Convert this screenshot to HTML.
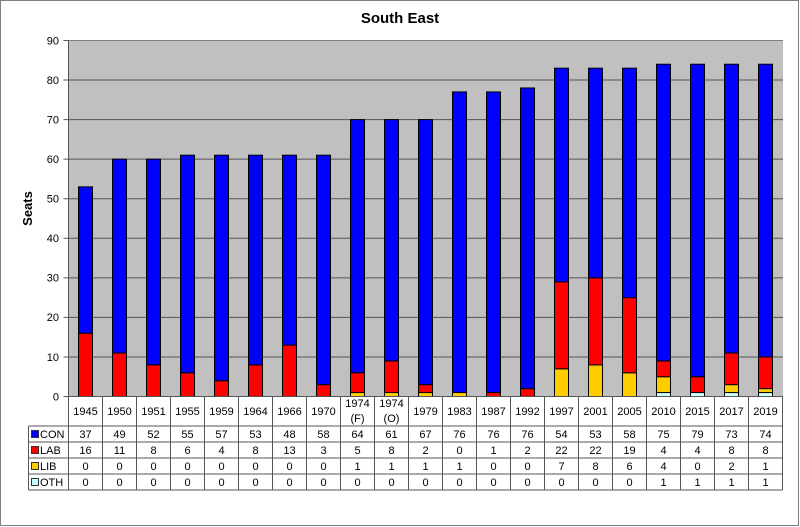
<!DOCTYPE html>
<html><head><meta charset="utf-8"><style>
html,body{margin:0;padding:0;background:#fff;}
svg{display:block;font-family:"Liberation Sans",Arial,sans-serif;}
</style></head><body>
<svg width="800" height="527" viewBox="0 0 800 527" xmlns="http://www.w3.org/2000/svg">
<rect x="0.5" y="0.5" width="798" height="525" fill="#fff" stroke="#808080" stroke-width="1"/>
<text x="400" y="23" text-anchor="middle" font-size="15" font-weight="bold" fill="#000">South East</text>
<text transform="translate(32,208.5) rotate(-90)" text-anchor="middle" font-size="13" font-weight="bold" fill="#000">Seats</text>
<!-- plot area -->
<rect x="68.5" y="40.5" width="714.5" height="356" fill="#c0c0c0"/>
<g stroke="#555" stroke-width="1">
<line x1="63.5" y1="40.5" x2="783" y2="40.5" stroke="#808080"/>
<line x1="63.5" y1="80.06" x2="783" y2="80.06"/>
<line x1="63.5" y1="119.61" x2="783" y2="119.61"/>
<line x1="63.5" y1="159.17" x2="783" y2="159.17"/>
<line x1="63.5" y1="198.72" x2="783" y2="198.72"/>
<line x1="63.5" y1="238.28" x2="783" y2="238.28"/>
<line x1="63.5" y1="277.83" x2="783" y2="277.83"/>
<line x1="63.5" y1="317.39" x2="783" y2="317.39"/>
<line x1="63.5" y1="356.94" x2="783" y2="356.94"/>
<line x1="63.5" y1="396.5" x2="783" y2="396.5"/>
</g>
<line x1="68.5" y1="40.5" x2="68.5" y2="396.5" stroke="#555"/>
<line x1="63.5" y1="40.5" x2="68.5" y2="40.5" stroke="#555"/>
<g font-size="11" text-anchor="end" fill="#000">
<text x="59" y="44.5">90</text>
<text x="59" y="84">80</text>
<text x="59" y="123.5">70</text>
<text x="59" y="163">60</text>
<text x="59" y="202.5">50</text>
<text x="59" y="242">40</text>
<text x="59" y="281.5">30</text>
<text x="59" y="321">20</text>
<text x="59" y="361">10</text>
<text x="59" y="400.5">0</text>
</g>
<!-- bars -->
<g stroke="#000" stroke-width="1">
<rect x="78.5" y="333.21" width="14" height="63.29" fill="#ff0000"/>
<rect x="78.5" y="186.85" width="14" height="146.36" fill="#0000ff"/>
<rect x="112.5" y="352.99" width="14" height="43.51" fill="#ff0000"/>
<rect x="112.5" y="159.17" width="14" height="193.82" fill="#0000ff"/>
<rect x="146.5" y="364.86" width="14" height="31.64" fill="#ff0000"/>
<rect x="146.5" y="159.17" width="14" height="205.69" fill="#0000ff"/>
<rect x="180.5" y="372.77" width="14" height="23.73" fill="#ff0000"/>
<rect x="180.5" y="155.21" width="14" height="217.56" fill="#0000ff"/>
<rect x="214.5" y="380.68" width="14" height="15.82" fill="#ff0000"/>
<rect x="214.5" y="155.21" width="14" height="225.47" fill="#0000ff"/>
<rect x="248.5" y="364.86" width="14" height="31.64" fill="#ff0000"/>
<rect x="248.5" y="155.21" width="14" height="209.65" fill="#0000ff"/>
<rect x="282.5" y="345.08" width="14" height="51.42" fill="#ff0000"/>
<rect x="282.5" y="155.21" width="14" height="189.87" fill="#0000ff"/>
<rect x="316.5" y="384.63" width="14" height="11.87" fill="#ff0000"/>
<rect x="316.5" y="155.21" width="14" height="229.42" fill="#0000ff"/>
<rect x="350.5" y="392.54" width="14" height="3.96" fill="#ffcc00"/>
<rect x="350.5" y="372.77" width="14" height="19.77" fill="#ff0000"/>
<rect x="350.5" y="119.61" width="14" height="253.16" fill="#0000ff"/>
<rect x="384.5" y="392.54" width="14" height="3.96" fill="#ffcc00"/>
<rect x="384.5" y="360.90" width="14" height="31.64" fill="#ff0000"/>
<rect x="384.5" y="119.61" width="14" height="241.29" fill="#0000ff"/>
<rect x="418.5" y="392.54" width="14" height="3.96" fill="#ffcc00"/>
<rect x="418.5" y="384.63" width="14" height="7.91" fill="#ff0000"/>
<rect x="418.5" y="119.61" width="14" height="265.02" fill="#0000ff"/>
<rect x="452.5" y="392.54" width="14" height="3.96" fill="#ffcc00"/>
<rect x="452.5" y="91.92" width="14" height="300.62" fill="#0000ff"/>
<rect x="486.5" y="392.54" width="14" height="3.96" fill="#ff0000"/>
<rect x="486.5" y="91.92" width="14" height="300.62" fill="#0000ff"/>
<rect x="520.5" y="388.59" width="14" height="7.91" fill="#ff0000"/>
<rect x="520.5" y="87.97" width="14" height="300.62" fill="#0000ff"/>
<rect x="554.5" y="368.81" width="14" height="27.69" fill="#ffcc00"/>
<rect x="554.5" y="281.79" width="14" height="87.02" fill="#ff0000"/>
<rect x="554.5" y="68.19" width="14" height="213.6" fill="#0000ff"/>
<rect x="588.5" y="364.86" width="14" height="31.64" fill="#ffcc00"/>
<rect x="588.5" y="277.83" width="14" height="87.03" fill="#ff0000"/>
<rect x="588.5" y="68.19" width="14" height="209.64" fill="#0000ff"/>
<rect x="622.5" y="372.77" width="14" height="23.73" fill="#ffcc00"/>
<rect x="622.5" y="297.61" width="14" height="75.16" fill="#ff0000"/>
<rect x="622.5" y="68.19" width="14" height="229.42" fill="#0000ff"/>
<rect x="656.5" y="392.54" width="14" height="3.96" fill="#ccffff"/>
<rect x="656.5" y="376.72" width="14" height="15.82" fill="#ffcc00"/>
<rect x="656.5" y="360.90" width="14" height="15.82" fill="#ff0000"/>
<rect x="656.5" y="64.23" width="14" height="296.67" fill="#0000ff"/>
<rect x="690.5" y="392.54" width="14" height="3.96" fill="#ccffff"/>
<rect x="690.5" y="376.72" width="14" height="15.82" fill="#ff0000"/>
<rect x="690.5" y="64.23" width="14" height="312.49" fill="#0000ff"/>
<rect x="724.5" y="392.54" width="14" height="3.96" fill="#ccffff"/>
<rect x="724.5" y="384.63" width="14" height="7.91" fill="#ffcc00"/>
<rect x="724.5" y="352.99" width="14" height="31.64" fill="#ff0000"/>
<rect x="724.5" y="64.23" width="14" height="288.76" fill="#0000ff"/>
<rect x="758.5" y="392.54" width="14" height="3.96" fill="#ccffff"/>
<rect x="758.5" y="388.59" width="14" height="3.95" fill="#ffcc00"/>
<rect x="758.5" y="356.94" width="14" height="31.65" fill="#ff0000"/>
<rect x="758.5" y="64.23" width="14" height="292.71" fill="#0000ff"/>
</g>
<!-- data table -->
<g stroke="#555" stroke-width="1" fill="none">
<line x1="68.5" y1="396.5" x2="783" y2="396.5"/>
<line x1="28.5" y1="426" x2="782.5" y2="426"/>
<line x1="28.5" y1="442" x2="782.5" y2="442"/>
<line x1="28.5" y1="458" x2="782.5" y2="458"/>
<line x1="28.5" y1="474" x2="782.5" y2="474"/>
<line x1="28.5" y1="490" x2="782.5" y2="490"/>
<line x1="28.5" y1="426" x2="28.5" y2="490"/>
<line x1="68.5" y1="396.5" x2="68.5" y2="490"/>
<line x1="102.5" y1="396.5" x2="102.5" y2="490"/>
<line x1="136.5" y1="396.5" x2="136.5" y2="490"/>
<line x1="170.5" y1="396.5" x2="170.5" y2="490"/>
<line x1="204.5" y1="396.5" x2="204.5" y2="490"/>
<line x1="238.5" y1="396.5" x2="238.5" y2="490"/>
<line x1="272.5" y1="396.5" x2="272.5" y2="490"/>
<line x1="306.5" y1="396.5" x2="306.5" y2="490"/>
<line x1="340.5" y1="396.5" x2="340.5" y2="490"/>
<line x1="374.5" y1="396.5" x2="374.5" y2="490"/>
<line x1="408.5" y1="396.5" x2="408.5" y2="490"/>
<line x1="442.5" y1="396.5" x2="442.5" y2="490"/>
<line x1="476.5" y1="396.5" x2="476.5" y2="490"/>
<line x1="510.5" y1="396.5" x2="510.5" y2="490"/>
<line x1="544.5" y1="396.5" x2="544.5" y2="490"/>
<line x1="578.5" y1="396.5" x2="578.5" y2="490"/>
<line x1="612.5" y1="396.5" x2="612.5" y2="490"/>
<line x1="646.5" y1="396.5" x2="646.5" y2="490"/>
<line x1="680.5" y1="396.5" x2="680.5" y2="490"/>
<line x1="714.5" y1="396.5" x2="714.5" y2="490"/>
<line x1="748.5" y1="396.5" x2="748.5" y2="490"/>
<line x1="782.5" y1="396.5" x2="782.5" y2="490"/>
</g>
<!-- legend keys -->
<g stroke="#333" stroke-width="1">
<rect x="31.5" y="430.5" width="7" height="7" fill="#0000ff"/>
<rect x="31.5" y="446.5" width="7" height="7" fill="#ff0000"/>
<rect x="31.5" y="462.5" width="7" height="7" fill="#ffcc00"/>
<rect x="31.5" y="478.5" width="7" height="7" fill="#ccffff"/>
</g>
<g font-size="11" fill="#000">
<text x="40" y="438">CON</text>
<text x="40" y="454">LAB</text>
<text x="40" y="470">LIB</text>
<text x="40" y="486">OTH</text>
</g>
<!-- header -->
<g font-size="11" fill="#000" text-anchor="middle">
<text x="85.5" y="415">1945</text>
<text x="119.5" y="415">1950</text>
<text x="153.5" y="415">1951</text>
<text x="187.5" y="415">1955</text>
<text x="221.5" y="415">1959</text>
<text x="255.5" y="415">1964</text>
<text x="289.5" y="415">1966</text>
<text x="323.5" y="415">1970</text>
<text x="357.5" y="407">1974</text>
<text x="357.5" y="422">(F)</text>
<text x="391.5" y="407">1974</text>
<text x="391.5" y="422">(O)</text>
<text x="425.5" y="415">1979</text>
<text x="459.5" y="415">1983</text>
<text x="493.5" y="415">1987</text>
<text x="527.5" y="415">1992</text>
<text x="561.5" y="415">1997</text>
<text x="595.5" y="415">2001</text>
<text x="629.5" y="415">2005</text>
<text x="663.5" y="415">2010</text>
<text x="697.5" y="415">2015</text>
<text x="731.5" y="415">2017</text>
<text x="765.5" y="415">2019</text>
</g>
<!-- CON row -->
<g font-size="11" fill="#000" text-anchor="middle">
<text x="85.5" y="438">37</text><text x="119.5" y="438">49</text><text x="153.5" y="438">52</text><text x="187.5" y="438">55</text><text x="221.5" y="438">57</text><text x="255.5" y="438">53</text><text x="289.5" y="438">48</text><text x="323.5" y="438">58</text><text x="357.5" y="438">64</text><text x="391.5" y="438">61</text><text x="425.5" y="438">67</text><text x="459.5" y="438">76</text><text x="493.5" y="438">76</text><text x="527.5" y="438">76</text><text x="561.5" y="438">54</text><text x="595.5" y="438">53</text><text x="629.5" y="438">58</text><text x="663.5" y="438">75</text><text x="697.5" y="438">79</text><text x="731.5" y="438">73</text><text x="765.5" y="438">74</text>
</g>
<!-- LAB row -->
<g font-size="11" fill="#000" text-anchor="middle">
<text x="85.5" y="454">16</text><text x="119.5" y="454">11</text><text x="153.5" y="454">8</text><text x="187.5" y="454">6</text><text x="221.5" y="454">4</text><text x="255.5" y="454">8</text><text x="289.5" y="454">13</text><text x="323.5" y="454">3</text><text x="357.5" y="454">5</text><text x="391.5" y="454">8</text><text x="425.5" y="454">2</text><text x="459.5" y="454">0</text><text x="493.5" y="454">1</text><text x="527.5" y="454">2</text><text x="561.5" y="454">22</text><text x="595.5" y="454">22</text><text x="629.5" y="454">19</text><text x="663.5" y="454">4</text><text x="697.5" y="454">4</text><text x="731.5" y="454">8</text><text x="765.5" y="454">8</text>
</g>
<!-- LIB row -->
<g font-size="11" fill="#000" text-anchor="middle">
<text x="85.5" y="470">0</text><text x="119.5" y="470">0</text><text x="153.5" y="470">0</text><text x="187.5" y="470">0</text><text x="221.5" y="470">0</text><text x="255.5" y="470">0</text><text x="289.5" y="470">0</text><text x="323.5" y="470">0</text><text x="357.5" y="470">1</text><text x="391.5" y="470">1</text><text x="425.5" y="470">1</text><text x="459.5" y="470">1</text><text x="493.5" y="470">0</text><text x="527.5" y="470">0</text><text x="561.5" y="470">7</text><text x="595.5" y="470">8</text><text x="629.5" y="470">6</text><text x="663.5" y="470">4</text><text x="697.5" y="470">0</text><text x="731.5" y="470">2</text><text x="765.5" y="470">1</text>
</g>
<!-- OTH row -->
<g font-size="11" fill="#000" text-anchor="middle">
<text x="85.5" y="486">0</text><text x="119.5" y="486">0</text><text x="153.5" y="486">0</text><text x="187.5" y="486">0</text><text x="221.5" y="486">0</text><text x="255.5" y="486">0</text><text x="289.5" y="486">0</text><text x="323.5" y="486">0</text><text x="357.5" y="486">0</text><text x="391.5" y="486">0</text><text x="425.5" y="486">0</text><text x="459.5" y="486">0</text><text x="493.5" y="486">0</text><text x="527.5" y="486">0</text><text x="561.5" y="486">0</text><text x="595.5" y="486">0</text><text x="629.5" y="486">0</text><text x="663.5" y="486">1</text><text x="697.5" y="486">1</text><text x="731.5" y="486">1</text><text x="765.5" y="486">1</text>
</g>
</svg>
</body></html>
